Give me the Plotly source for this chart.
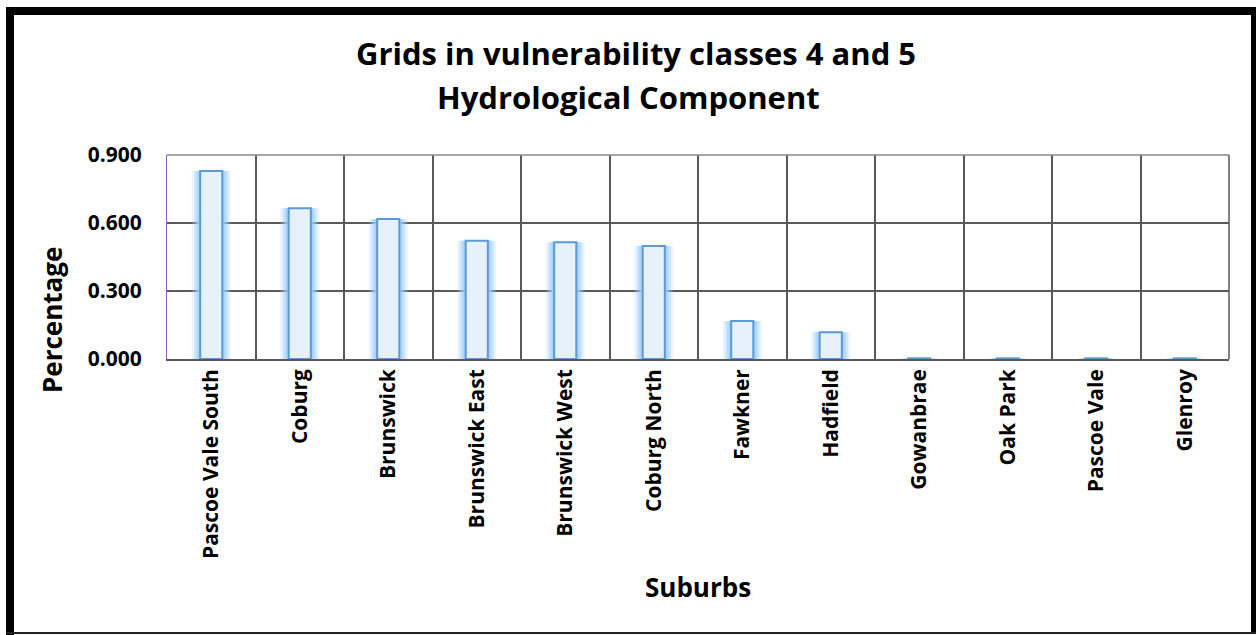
import plotly.graph_objects as go

suburbs = ["Pascoe Vale South", "Coburg", "Brunswick", "Brunswick East", "Brunswick West",
           "Coburg North", "Fawkner", "Hadfield", "Gowanbrae", "Oak Park", "Pascoe Vale", "Glenroy"]
percentage = [0.829, 0.665, 0.618, 0.522, 0.515, 0.498, 0.168, 0.118, 0.003, 0.003, 0.003, 0.003]
y_ticks = [0.0, 0.3, 0.6, 0.9]
y_tick_labels = ["0.000", "0.300", "0.600", "0.900"]

W, H = 1257, 635
L, R, T, B = 167, 28, 155, 276
PW, PH = W - L - R, H - T - B
FONT = "Open Sans"

def px(x):
    return (x - L) / PW

def py(y):
    return (H - B - y) / PH

fig = go.Figure()

# glow layers
glow_layers = [(0.44, 0.032, "rgba(160,205,250,0.22)"),
               (0.39, 0.024, "rgba(160,205,250,0.34)"),
               (0.345, 0.016, "rgba(160,205,250,0.5)"),
               (0.30, 0.009, "rgba(160,205,250,0.65)")]
for w, pad, col in glow_layers:
    fig.add_trace(go.Bar(x=suburbs, y=[v + pad for v in percentage], base=[-pad] * len(percentage),
                         width=w, marker=dict(color=col, line=dict(width=0)),
                         hoverinfo="skip", showlegend=False))
# main bars
fig.add_trace(go.Bar(x=suburbs, y=percentage, width=0.25,
                     marker=dict(color="#e6f1fc", line=dict(color="#5B9BD5", width=2)),
                     showlegend=False))

fig.update_layout(
    width=W, height=H, barmode="overlay",
    margin=dict(l=L, r=R, t=T, b=B, autoexpand=False),
    paper_bgcolor="white", plot_bgcolor="white",
    font=dict(family=FONT, color="black"),
)
fig.update_xaxes(
    type="category", tickson="boundaries", showgrid=True, gridcolor="#595959", gridwidth=1.5,
    showline=True, linecolor="#595959", linewidth=1.5, mirror=False,
    ticks="outside", ticklen=19, tickcolor="rgba(0,0,0,0)",
    tickangle=-90, tickfont=dict(family=FONT, size=21, weight="bold", color="black"),
    range=[-0.5, 11.5],
)
fig.update_yaxes(
    range=[0, 0.9], tickvals=y_ticks, ticktext=y_tick_labels,
    showgrid=True, gridcolor="#595959", gridwidth=1.5, zeroline=False,
    showline=True, linecolor="#8a5cc0", linewidth=1.2,
    ticks="outside", ticklen=20, tickcolor="rgba(0,0,0,0)",
    tickfont=dict(family=FONT, size=21, weight="bold", color="black"),
)

# top and right edges of plot frame
fig.add_shape(type="line", xref="paper", yref="paper", x0=0, x1=1, y0=1, y1=1,
              line=dict(color="#8c8c8c", width=1.5))
fig.add_shape(type="line", xref="paper", yref="paper", x0=1, x1=1, y0=0, y1=1,
              line=dict(color="#595959", width=1.5))

# outer black frame
frame = [
    (6, 7, 1256, 15, "black"),
    (6, 7, 14, 635, "black"),
    (1251, 7, 1256, 633, "black"),
    (6, 632, 1256, 634, "#222222"),
]
for x0, y0, x1, y1, c in frame:
    fig.add_shape(type="rect", xref="paper", yref="paper",
                  x0=px(x0), x1=px(x1), y0=py(y1), y1=py(y0),
                  fillcolor=c, line=dict(width=0), layer="above")

# titles
fig.add_annotation(text="Grids in vulnerability classes 4 and 5", xref="paper", yref="paper",
                   x=px(636), y=py(53), showarrow=False, xanchor="center", yanchor="middle",
                   font=dict(family=FONT, size=31, weight="bold", color="black"))
fig.add_annotation(text="Hydrological Component", xref="paper", yref="paper",
                   x=px(628), y=py(97), showarrow=False, xanchor="center", yanchor="middle",
                   font=dict(family=FONT, size=31, weight="bold", color="black"))
fig.add_annotation(text="Percentage", xref="paper", yref="paper", textangle=-90,
                   x=px(52), y=py(320), showarrow=False, xanchor="center", yanchor="middle",
                   font=dict(family=FONT, size=26, weight="bold", color="black"))
fig.add_annotation(text="Suburbs", xref="paper", yref="paper",
                   x=px(698), y=py(587), showarrow=False, xanchor="center", yanchor="middle",
                   font=dict(family=FONT, size=26, weight="bold", color="black"))

fig.write_html("out.html", config={"displayModeBar": False},
               post_script="document.body.style.margin='0px';")
